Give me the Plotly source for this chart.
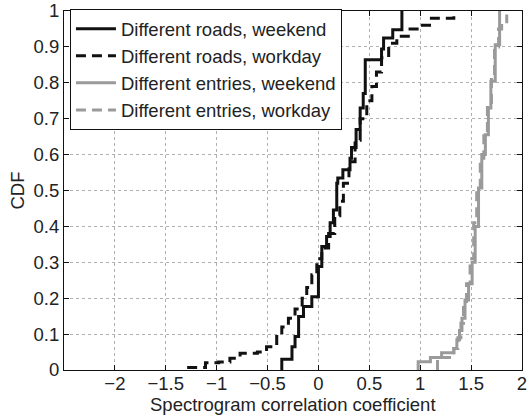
import plotly.graph_objects as go

# Step-CDF points (x = coefficient, y = CDF)
roads_weekend_x = [-0.36, -0.36, -0.26, -0.23, -0.195, -0.147, -0.065, 0.0, 0.033, 0.08, 0.115, 0.147,
                   0.18, 0.19, 0.24, 0.31, 0.325, 0.37, 0.41, 0.44, 0.46, 0.62, 0.64, 0.73, 0.82]
roads_weekend_y = [0.0, 0.03, 0.065, 0.093, 0.149, 0.177, 0.204, 0.288, 0.344, 0.372, 0.41, 0.446,
                   0.52, 0.535, 0.558, 0.59, 0.62, 0.67, 0.73, 0.77, 0.864, 0.894, 0.925, 0.948, 1.0]

roads_workday_x = [-1.29, -1.11, -0.98, -0.87, -0.77, -0.6, -0.51, -0.41, -0.36, -0.295, -0.23, -0.16,
                   -0.115, -0.065, -0.016, 0.033, 0.1, 0.16, 0.21, 0.245, 0.3, 0.36, 0.41, 0.475,
                   0.525, 0.57, 0.62, 0.69, 0.77, 0.9, 1.0, 1.11, 1.33]
roads_workday_y = [0.007, 0.02, 0.022, 0.033, 0.047, 0.05, 0.065, 0.093, 0.12, 0.144, 0.17, 0.2,
                   0.23, 0.265, 0.31, 0.34, 0.38, 0.43, 0.47, 0.52, 0.58, 0.64, 0.7, 0.75,
                   0.79, 0.83, 0.87, 0.91, 0.93, 0.95, 0.96, 0.98, 1.0]

entries_weekend_x = [0.98, 0.98, 1.10, 1.21, 1.33, 1.36, 1.386, 1.41, 1.44, 1.475, 1.51, 1.54,
                     1.573, 1.605, 1.64, 1.67, 1.694, 1.737, 1.78]
entries_weekend_y = [0.0, 0.023, 0.035, 0.048, 0.06, 0.084, 0.11, 0.144, 0.195, 0.24, 0.3, 0.4,
                     0.507, 0.6, 0.655, 0.73, 0.804, 0.906, 1.0]

entries_workday_x = [1.17, 1.17, 1.33, 1.37, 1.40, 1.425, 1.455, 1.49, 1.525, 1.555, 1.59, 1.625,
                     1.66, 1.70, 1.73, 1.77, 1.80, 1.85]
entries_workday_y = [0.0, 0.035, 0.06, 0.09, 0.13, 0.18, 0.24, 0.31, 0.41, 0.5, 0.59, 0.66,
                     0.74, 0.82, 0.9, 0.95, 0.97, 0.99]

series_names = ["Different roads, weekend", "Different roads, workday",
                "Different entries, weekend", "Different entries, workday"]

x_ticks = [-2, -1.5, -1, -0.5, 0, 0.5, 1, 1.5, 2]
x_ticktext = ["\u22122", "\u22121.5", "\u22121", "\u22120.5", "0", "0.5", "1", "1.5", "2"]
y_ticks = [0, 0.1, 0.2, 0.3, 0.4, 0.5, 0.6, 0.7, 0.8, 0.9, 1]
y_ticktext = ["0", "0.1", "0.2", "0.3", "0.4", "0.5", "0.6", "0.7", "0.8", "0.9", "1"]

BLACK = "#111111"
GRAY = "#9a9a9a"
TEXT = "#222222"
FONT = "Liberation Sans, Arial, sans-serif"
FS = 18.5

fig = go.Figure()
specs = [
    (roads_weekend_x, roads_weekend_y, BLACK, "solid"),
    (roads_workday_x, roads_workday_y, BLACK, "10px,6px"),
    (entries_weekend_x, entries_weekend_y, GRAY, "solid"),
    (entries_workday_x, entries_workday_y, GRAY, "10px,6px"),
]
for (xs, ys, col, dash), name in zip(specs, series_names):
    fig.add_trace(go.Scatter(x=xs, y=ys, mode="lines", name=name,
                             line=dict(color=col, width=3, dash=dash, shape="hv")))

axis_common = dict(showline=True, linecolor="#111111", linewidth=1, mirror="ticks",
                   ticks="inside", ticklen=5, tickcolor="#111111",
                   showgrid=True, gridcolor="#b0b0b0", griddash="dot", gridwidth=1,
                   zeroline=False, ticklabeloverflow="allow", automargin=False,
                   tickfont=dict(size=FS, color=TEXT, family=FONT))

fig.update_xaxes(range=[-2.5, 2], tickvals=x_ticks, ticktext=x_ticktext,
                 ticklabelstandoff=-3, **axis_common)
fig.update_yaxes(range=[0, 1], tickvals=y_ticks, ticktext=y_ticktext,
                 title=dict(text="CDF", standoff=4, font=dict(size=FS, color=TEXT, family=FONT)),
                 **axis_common)

fig.add_annotation(text="Spectrogram correlation coefficient", xref="paper", yref="paper",
                   x=0.5, y=0, xanchor="center", yanchor="middle", yshift=-34,
                   showarrow=False, font=dict(size=FS, color=TEXT, family=FONT))

fig.update_layout(
    width=527, height=418,
    margin=dict(l=64, r=5, t=11, b=48),
    paper_bgcolor="white", plot_bgcolor="white",
    font=dict(family=FONT, size=FS, color=TEXT),
    showlegend=True,
    legend=dict(x=0.013, y=1.005, xanchor="left", yanchor="top",
                bgcolor="white", bordercolor="#111111", borderwidth=1,
                font=dict(size=FS, color=TEXT, family=FONT),
                tracegroupgap=0, itemwidth=40),
)

fig.write_html("out.html", config={"displayModeBar": False},
               post_script="document.body.style.margin='0';document.body.style.padding='0';"
                           "document.body.style.overflow='hidden';")
